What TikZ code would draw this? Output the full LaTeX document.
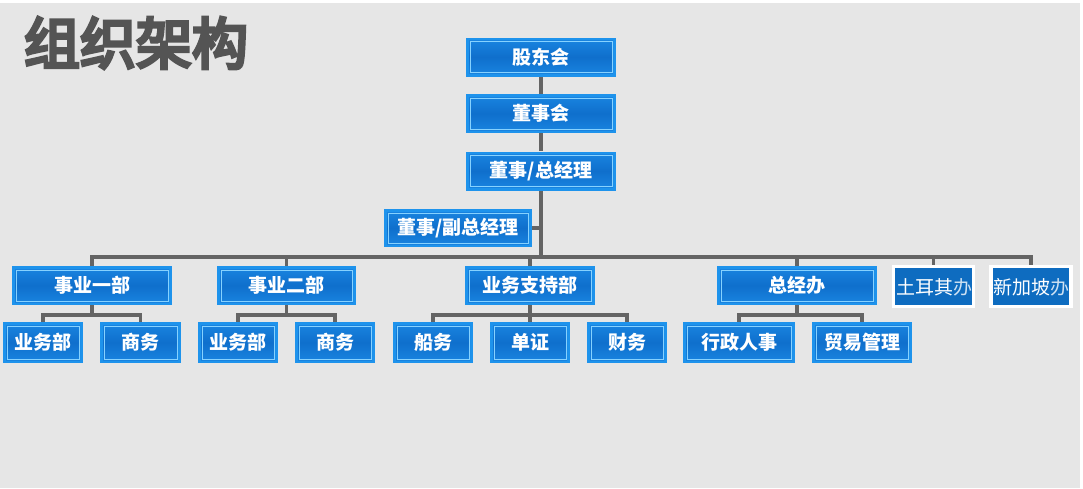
\documentclass[tikz,border=0pt]{standalone}
\usepackage{fontspec}
\usetikzlibrary{backgrounds}
\newfontfamily\cjk{Noto Sans CJK SC}
\newfontfamily\titlef[FakeBold=6,BoldFeatures={FakeBold=6}]{Noto Sans CJK SC}
\definecolor{bg}{HTML}{E6E6E6}
\definecolor{boxouter}{HTML}{1E93EC}
\definecolor{boxinnerA}{HTML}{1A86E2}
\definecolor{boxinnerB}{HTML}{0F6FCC}
\definecolor{boxline}{HTML}{86D2FF}
\definecolor{conn}{HTML}{646464}
\definecolor{titlec}{HTML}{545454}
\definecolor{plainfill}{HTML}{0E6CC0}
\tikzset{
  box/.style={rectangle, fill=boxouter, inner sep=0pt, text=white,
    font=\cjk\bfseries\fontsize{19}{21}\selectfont,
    path picture={
      \fill[top color=boxinnerA, bottom color=boxinnerA, middle color=boxinnerB]
        ([shift={(3pt,-3pt)}]path picture bounding box.north west) rectangle
        ([shift={(-3pt,3pt)}]path picture bounding box.south east);
      \draw[boxline, line width=0.9pt]
        ([shift={(4pt,-4pt)}]path picture bounding box.north west) rectangle
        ([shift={(-4pt,4pt)}]path picture bounding box.south east);
    }},
  topbox/.style={box, minimum width=150pt, minimum height=39pt},
  lvbox/.style={box, minimum height=39pt},
  subbox/.style={box, minimum height=41pt},
  plainbox/.style={rectangle, fill=plainfill, draw=white, line width=3.5pt, inner sep=0pt,
    minimum width=80pt, minimum height=40pt},
  plaintext/.style={anchor=west, inner sep=0pt, text=white,
    font=\cjk\fontsize{19}{21}\selectfont},
  conn/.style={draw=conn, line width=3.4pt},
}
\begin{document}
\begin{tikzpicture}[x=1pt,y=-1pt]
\begin{scope}[on background layer]
\fill[white] (0,0) rectangle (1083,488);
\fill[bg] (0,3) rectangle (1080,488);
\end{scope}
\useasboundingbox (0,0) rectangle (1083,488);

\node[text=titlec, font=\titlef\fontsize{56}{58}\selectfont, inner sep=0pt] (title) at (136,43) {组织架构};

\coordinate (bus) at (0,257);
\coordinate (sb) at (0,315);

\node[topbox] (gd) at (541,57) {股东会};
\node[topbox] (dsh) at (541,113.5) {董事会};
\node[topbox] (zjl) at (541,171) {董事/总经理};
\node[lvbox, minimum width=148pt, minimum height=38pt] (fzjl) at (458,228) {董事/副总经理};

\node[lvbox, minimum width=160pt] (b1) at (92,285.5) {事业一部};
\node[lvbox, minimum width=139pt] (b2) at (286.5,285.5) {事业二部};
\node[lvbox, minimum width=130pt] (b3) at (530,285.5) {业务支持部};
\node[lvbox, minimum width=160pt] (b4) at (797,285.5) {总经办};
\node[plainbox] (tr) at (933.5,286.5) {};
\node[plainbox] (sg) at (1031,286.5) {};
\begin{scope}
\clip (895.5,268) rectangle (975,305);
\node[plaintext] (trt) at (896,287) {土耳其\textcolor{white!80!plainfill}{办}};
\end{scope}
\begin{scope}
\clip (992.5,268) rectangle (1072,305);
\node[plaintext] (sgt) at (993,287) {新加坡\textcolor{white!80!plainfill}{办}};
\end{scope}

\node[subbox, minimum width=80pt] (s11) at (43,342.5) {业务部};
\node[subbox, minimum width=81pt] (s12) at (140.5,342.5) {商务};
\node[subbox, minimum width=80pt] (s21) at (238,342.5) {业务部};
\node[subbox, minimum width=80pt] (s22) at (335,342.5) {商务};
\node[subbox, minimum width=80pt] (s31) at (433,342.5) {船务};
\node[subbox, minimum width=80pt] (s32) at (530,342.5) {单证};
\node[subbox, minimum width=80pt] (s33) at (627,342.5) {财务};
\node[subbox, minimum width=112pt] (s41) at (739,342.5) {行政人事};
\node[subbox, minimum width=100pt] (s42) at (862,342.5) {贸易管理};

\begin{scope}[on background layer]
\draw[conn] (gd.south) -- (dsh.north);
\draw[conn] (dsh.south) -- (zjl.north);
\draw[conn] (zjl.south) -- (zjl.south |- bus);
\draw[conn] (fzjl.east) -- (zjl.south |- fzjl.east);
\draw[conn] ([xshift=-1.7pt]b1.north |- bus) -- ([xshift=1.7pt]sg.north |- bus);
\foreach \n in {b1,b2,b3,b4,tr,sg} \draw[conn] (\n.north) -- (\n.north |- bus);
\draw[conn] (b1.south) -- (b1.south |- sb);
\draw[conn] (s11.north) -- (s11.north |- sb) -- (s12.north |- sb) -- (s12.north);
\draw[conn] (b2.south) -- (b2.south |- sb);
\draw[conn] (s21.north) -- (s21.north |- sb) -- (s22.north |- sb) -- (s22.north);
\draw[conn] (b3.south) -- (s32.north);
\draw[conn] (s31.north) -- (s31.north |- sb) -- (s33.north |- sb) -- (s33.north);
\draw[conn] (b4.south) -- (b4.south |- sb);
\draw[conn] (s41.north) -- (s41.north |- sb) -- (s42.north |- sb) -- (s42.north);
\end{scope}
\end{tikzpicture}
\end{document}
